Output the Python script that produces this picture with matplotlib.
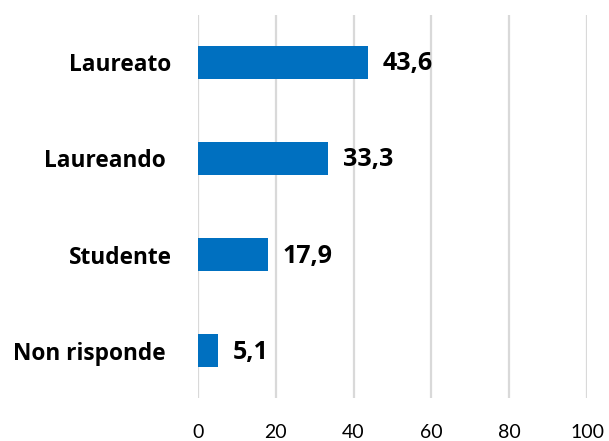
import matplotlib.pyplot as plt

categorie = ["Non risponde ", "Studente", "Laureando ", "Laureato"]
valori = [5.1, 17.9, 33.3, 43.6]
etichette = ["5,1", "17,9", "33,3", "43,6"]
ticks_x = [0, 20, 40, 60, 80, 100]

plt.rcParams['font.family'] = ['Lato', 'DejaVu Sans']

fig = plt.figure(figsize=(6.09, 4.41), dpi=100)
ax = fig.add_axes([0.325, 0.0975, 0.639, 0.8685])

pos = range(len(categorie))
ax.barh(pos, valori, height=0.34, color='#0070C0', zorder=3)
for y, v, t in zip(pos, valori, etichette):
    ax.annotate(t, (v, y), xytext=(11, -1), textcoords='offset points',
                va='center', ha='left', fontsize=18, fontweight='bold',
                family='Open Sans', color='black')

ax.set_xlim(0, 100)
ax.set_ylim(-0.49, 3.49)
ax.set_xticks(ticks_x)
ax.set_xticklabels([str(t) for t in ticks_x], fontsize=14)
ax.set_yticks(list(pos))
ax.set_yticklabels(categorie, fontsize=16.3, fontweight='bold', family='Open Sans')
ax.tick_params(axis='x', length=0, pad=19)
ax.tick_params(axis='y', length=0, pad=19)
ax.grid(axis='x', color='#d9d9d9', linewidth=1.6, zorder=0)
for s in ax.spines.values():
    s.set_visible(False)

fig.savefig('out.png', dpi=100)
